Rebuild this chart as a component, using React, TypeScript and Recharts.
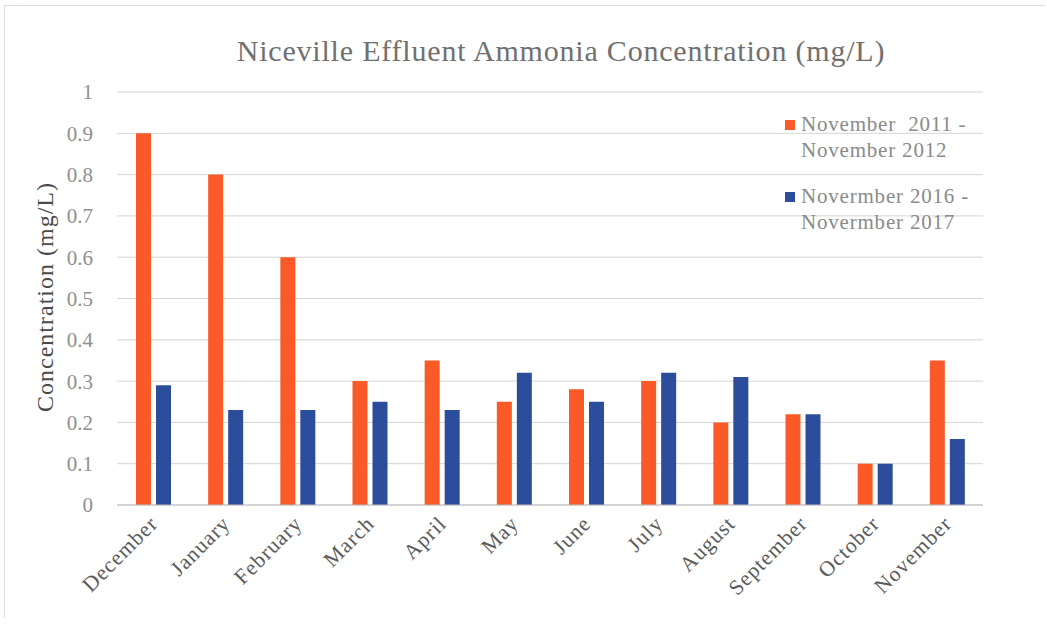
import React from 'react';
import { BarChart, Bar, XAxis, YAxis, CartesianGrid } from 'recharts';

const months = ['December', 'January', 'February', 'March', 'April', 'May', 'June', 'July', 'August', 'September', 'October', 'November'];
const period2011 = [0.9, 0.8, 0.6, 0.3, 0.35, 0.25, 0.28, 0.3, 0.2, 0.22, 0.1, 0.35];
const period2016 = [0.29, 0.23, 0.23, 0.25, 0.23, 0.32, 0.25, 0.32, 0.31, 0.22, 0.1, 0.16];
const yTicks = [0, 0.1, 0.2, 0.3, 0.4, 0.5, 0.6, 0.7, 0.8, 0.9, 1];

const data = months.map((m, i) => ({ month: m, a: period2011[i], b: period2016[i] }));

const ORANGE = '#fa5a28';
const BLUE = '#2c4d9c';
const FONT = '"Liberation Serif", "DejaVu Serif", serif';

// etikete meseca pod uglom od 45 stepeni
const MonthTick = (props: any) => {
  const { x, y, payload } = props;
  return (
    <g transform={`translate(${x + 6},${y + 12})`}>
      <text textAnchor="end" transform="rotate(-45)" fill="#5a5a5a" fontSize={21.5} letterSpacing={1} fontFamily={FONT}>
        {payload.value}
      </text>
    </g>
  );
};

export default function App() {
  return (
    <div style={{ position: 'absolute', left: 0, top: 0, width: 1047, height: 624, background: '#fff', fontFamily: FONT }}>
      <div style={{ position: 'absolute', left: 4, top: 5, width: 1040, height: 612, borderLeft: '1px solid #d6dde6', borderTop: '1px solid #d6dde6' }} />
      <div style={{ position: 'absolute', left: 0, width: 1122, top: 34, textAlign: 'center', fontSize: 30, letterSpacing: 0.8, color: '#707070' }}>
        Niceville Effluent Ammonia Concentration (mg/L)
      </div>
      <div style={{ position: 'absolute', left: 45, top: 297, transform: 'translate(-50%, -50%) rotate(-90deg)', whiteSpace: 'nowrap', fontSize: 24, letterSpacing: 1, color: '#4a4a4a' }}>
        Concentration (mg/L)
      </div>
      <BarChart
        width={1047}
        height={624}
        data={data}
        margin={{ top: 92, right: 64, bottom: 89, left: 57 }}
        barSize={15}
        barGap={5}
      >
        <CartesianGrid vertical={false} stroke="#d4d4d4" />
        <XAxis dataKey="month" tick={<MonthTick />} tickLine={false} axisLine={{ stroke: '#bdbdbd' }} interval={0} />
        <YAxis
          width={60}
          domain={[0, 1]}
          ticks={yTicks}
          tickLine={false}
          axisLine={false}
          tick={{ fill: '#8f8f8f', fontSize: 21, fontFamily: FONT }}
          tickMargin={18}
        />
        <Bar dataKey="a" fill={ORANGE} isAnimationActive={false} />
        <Bar dataKey="b" fill={BLUE} isAnimationActive={false} />
      </BarChart>
      <div style={{ position: 'absolute', left: 785, top: 111, fontSize: 21, letterSpacing: 0.8, color: '#8a8a8a', lineHeight: '26px' }}>
        <div style={{ display: 'flex' }}>
          <span style={{ width: 10, height: 10, background: ORANGE, marginTop: 9, marginRight: 6 }} />
          <span>November&nbsp; 2011 -<br />November 2012</span>
        </div>
        <div style={{ display: 'flex', marginTop: 20 }}>
          <span style={{ width: 10, height: 10, background: BLUE, marginTop: 9, marginRight: 6 }} />
          <span>Novermber 2016 -<br />Novermber 2017</span>
        </div>
      </div>
    </div>
  );
}
